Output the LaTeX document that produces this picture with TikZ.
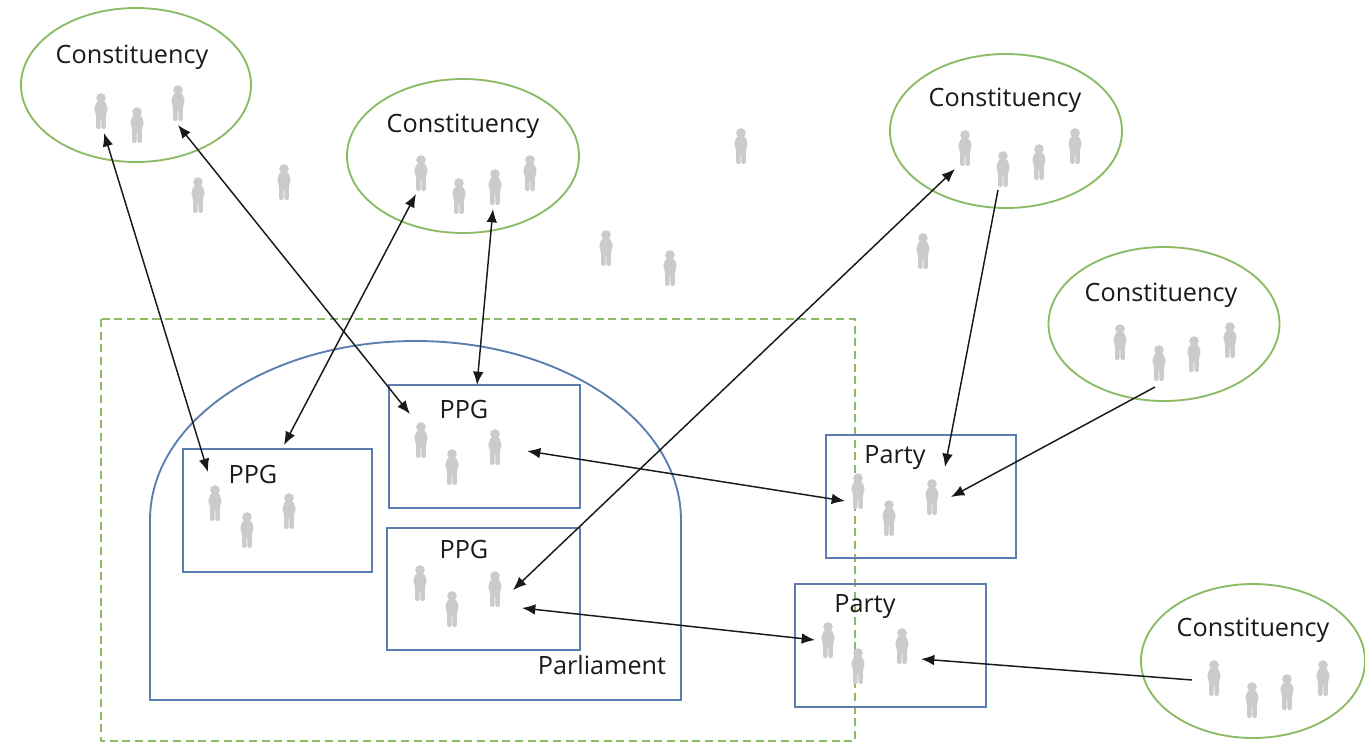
\documentclass[tikz,border=0pt]{standalone}
\usepackage{fontspec}
\setmainfont{Open Sans}
\usetikzlibrary{arrows.meta}
\definecolor{grn}{HTML}{8CBB66}
\definecolor{blu}{HTML}{5B7DB0}
\definecolor{ppl}{HTML}{CBCBCB}
\definecolor{txt}{HTML}{1A1A1A}
\tikzset{
  x=0.75pt,y=-0.75pt,
  groupbox/.style={draw=blu,line width=1.4pt,rectangle,inner sep=0},
  lab/.style={font=\fontsize{18.9}{21}\selectfont,text=txt,inner sep=0,anchor=center},
  link/.style={line width=1.1pt,draw=black!90,{Latex[length=10pt,width=8pt]}-{Latex[length=10pt,width=8pt]}},
  linkone/.style={line width=1.1pt,draw=black!90,-{Latex[length=10pt,width=8pt]}},
  person/.pic={
    \fill[ppl] (0,-13) circle (4.8);
    \fill[ppl,rounded corners=1.5] (-4,-10) -- (4,-10) -- (7,-2) -- (5,3) -- (4.8,18) -- (0.4,18) -- (0.3,6) -- (-0.3,6) -- (-0.4,18) -- (-4.8,18) -- (-5,3) -- (-7,-2) -- cycle;
  },
}
\newcommand{\people}[1]{\foreach \px/\py in {#1}{\pic at (\px,\py) {person};}}
\newcommand{\conoval}[4]{\draw[draw=grn,line width=1.4pt] (#2,#3) ellipse [x radius=#4,y radius=77]; \coordinate (#1) at (#2,#3);}
\begin{document}
\begin{tikzpicture}
\useasboundingbox (0,0) rectangle (1365,743);
\fill[white] (0,0) rectangle (1365,743);
% constituencies
\conoval{c1}{136}{85}{115}
\conoval{c2}{463}{156}{116}
\conoval{c3}{1006}{131}{116}
\conoval{c4}{1164}{324}{115.5}
\conoval{c5}{1253}{661}{112}
% parliament frame
\draw[grn,line width=1.2pt,dash pattern=on 6pt off 3.5pt] (101,319) rectangle (855,741);
\draw[blu,line width=1.4pt] (150,700) -- (150,520) arc [start angle=180,end angle=0,x radius=265.5,y radius=-179] -- (681,700) -- cycle;
% boxes
\node[groupbox,minimum width=141.75pt,minimum height=92.25pt] (p1) at (277.5,510.5) {};
\node[groupbox,minimum width=143.25pt,minimum height=92.25pt] (p2) at (484.5,446.5) {};
\node[groupbox,minimum width=144.75pt,minimum height=91.5pt] (p3) at (483.5,589) {};
\node[groupbox,minimum width=142.5pt,minimum height=92.25pt] (y1) at (921,496.5) {};
\node[groupbox,minimum width=143.25pt,minimum height=92.25pt] (y2) at (890.5,645.5) {};
% people
\people{101/111,137/125,178/103,198/195,284/182,741/146,606/248,670/268,923/251,
421/173,459/196,495/187,530/173,965/148,1003/169,1039/162,1075/146,
1120/342,1159/363,1194/354,1230/340,1214/678,1252/700,1287/692,1323/678,
215/503,247/530,289/511,421/440,452/467,495/447,420/583,452/609,495/589,
858/491,889/518,932/497,828/640,858/666,902/646}
% labels
\node[lab] (t1) at (132,57) {Constituency};
\node[lab] (t2) at (463,126) {Constituency};
\node[lab] (t3) at (1005,100) {Constituency};
\node[lab] (t4) at (1161,295) {Constituency};
\node[lab] (t5) at (1253,630) {Constituency};
\node[lab] (t6) at (253,474) {PPG};
\node[lab] (t7) at (464,409) {PPG};
\node[lab] (t8) at (464,549) {PPG};
\node[lab] (t9) at (895,458) {Party};
\node[lab] (t10) at (865,607) {Party};
\node[lab] (t11) at (602,665) {Parliament};
% connector ends
\foreach \n/\cx/\cy in {a1/104/133,a2/208/472,b1/178/125,b2/410/414,d1/416/194,d2/284/445,
e1/493/209,e2/477/385,f1/955/169,f2/513/590,g1/527/451,g2/845/501,h1/522/608,h2/815/640,
i1/998/190,i2/945/467,j1/1155/387,j2/951/497,k1/1192/680,k2/921/659}{\coordinate (\n) at (\cx,\cy);}
\draw[link] (a1) -- (a2);
\draw[link] (b1) -- (b2);
\draw[link] (d1) -- (d2);
\draw[link] (e1) -- (e2);
\draw[link] (f1) -- (f2);
\draw[link] (g1) -- (g2);
\draw[link] (h1) -- (h2);
\draw[linkone] (i1) -- (i2);
\draw[linkone] (j1) -- (j2);
\draw[linkone] (k1) -- (k2);
\end{tikzpicture}
\end{document}
